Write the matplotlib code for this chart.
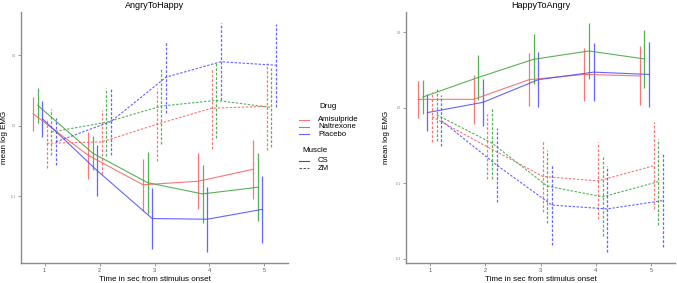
import numpy as np
import matplotlib
matplotlib.use('Agg')
from matplotlib import pyplot as plt

plt.rcParams['font.family'] = ['Liberation Sans', 'DejaVu Sans']

times = [1, 2, 3, 4, 5]
drugs = ['Amisulpride', 'Naltrexone', 'Placebo']
muscles = ['CS', 'ZM']
panels = ['AngryToHappy', 'HappyToAngry']

# mean log EMG and half-width of error bar, per panel / muscle / drug
a2h_cs_mean = {'Amisulpride': [0.017, -0.042, -0.084, -0.079, -0.062],
               'Naltrexone': [0.029, -0.039, -0.081, -0.097, -0.0875],
               'Placebo': [0.010, -0.064, -0.132, -0.133, -0.119]}
a2h_cs_err = {'Amisulpride': [0.024, 0.0335, 0.037, 0.0395, 0.042],
              'Naltrexone': [0.0245, 0.024, 0.044, 0.041, 0.048],
              'Placebo': [0.0255, 0.036, 0.043, 0.046, 0.0475]}
a2h_zm_mean = {'Amisulpride': [-0.025, -0.023, 0.002, 0.025, 0.0275],
               'Naltrexone': [-0.009, 0.005, 0.028, 0.036, 0.026],
               'Placebo': [-0.023, 0.006, 0.069, 0.091, 0.086]}
a2h_zm_err = {'Amisulpride': [0.0345, 0.0455, 0.0515, 0.0575, 0.0615],
              'Naltrexone': [0.0325, 0.048, 0.0535, 0.054, 0.056],
              'Placebo': [0.0335, 0.048, 0.0505, 0.0545, 0.059]}

h2a_cs_mean = {'Amisulpride': [0.011, 0.011, 0.037, 0.044, 0.042],
               'Naltrexone': [0.014, 0.040, 0.064, 0.075, 0.0645],
               'Placebo': [-0.0065, 0.007, 0.037, 0.047, 0.044]}
h2a_cs_err = {'Amisulpride': [0.0245, 0.0325, 0.035, 0.0356, 0.039],
              'Naltrexone': [0.0225, 0.0295, 0.033, 0.0365, 0.038],
              'Placebo': [0.024, 0.0315, 0.036, 0.0386, 0.0435]}
h2a_zm_mean = {'Amisulpride': [-0.012, -0.052, -0.091, -0.097, -0.077],
               'Naltrexone': [-0.0095, -0.047, -0.104, -0.118, -0.098],
               'Placebo': [-0.017, -0.076, -0.129, -0.134, -0.123]}
h2a_zm_err = {'Amisulpride': [0.033, 0.043, 0.047, 0.051, 0.0575],
              'Naltrexone': [0.0345, 0.047, 0.0485, 0.0525, 0.057],
              'Placebo': [0.0335, 0.0485, 0.0525, 0.0565, 0.062]}

data = {
    'AngryToHappy': {'CS': (a2h_cs_mean, a2h_cs_err), 'ZM': (a2h_zm_mean, a2h_zm_err)},
    'HappyToAngry': {'CS': (h2a_cs_mean, h2a_cs_err), 'ZM': (h2a_zm_mean, h2a_zm_err)},
}

colors = {'Amisulpride': '#f8605f', 'Naltrexone': '#3aa53a', 'Placebo': '#4a4aff'}
styles = {'CS': '-', 'ZM': (0, (2.2, 1.4))}
axis_grey = '#8a8a8a'
dodge = 0.5

W, H = 677, 283
fig = plt.figure(figsize=(W / 100, H / 100), dpi=100)


def px_axes(x0, x1, y0, y1):
    return fig.add_axes([x0 / W, (H - y1) / H, (x1 - x0) / W, (y1 - y0) / H])


axes = [px_axes(21, 288, 12, 263), px_axes(406, 675, 12, 263)]
ylabel_x = [-0.05, -0.06]

for ax, panel, lx in zip(axes, panels, ylabel_x):
    k = 0
    n = len(drugs) * len(muscles)
    for muscle in muscles:
        means, errs = data[panel][muscle]
        for drug in drugs:
            off = -dodge / 2 + dodge / n * (k + 0.5)
            x = np.array(times) + off
            eb = ax.errorbar(x, means[drug], yerr=errs[drug], color=colors[drug],
                             linestyle=styles[muscle], lw=0.8, elinewidth=0.9,
                             capsize=0, alpha=0.85)
            # error bars follow the muscle's line type, as in ggplot
            for coll in eb[2]:
                coll.set_linestyle(styles[muscle])
            k += 1
    ax.margins(0.05)
    ax.set_title(panel, fontsize=6.5, pad=3)
    ax.set_xlabel('Time in sec from stimulus onset', fontsize=5.8, labelpad=2)
    ax.set_ylabel('mean log EMG', fontsize=5.8)
    ax.yaxis.set_label_coords(lx, 0.5)
    ax.set_xticks(times)
    ax.tick_params(axis='x', labelsize=4, length=2, width=0.6,
                   color=axis_grey, labelcolor='#555555', pad=1.5)
    ax.tick_params(axis='y', labelsize=2.2, length=2, width=0.6,
                   color=axis_grey, labelcolor='#777777', pad=1.5)
    for side in ['top', 'right']:
        ax.spines[side].set_visible(False)
    for side in ['left', 'bottom']:
        ax.spines[side].set_color(axis_grey)
        ax.spines[side].set_linewidth(1.0)
    ax.set_facecolor('white')

axes[0].set_yticks([-0.1, 0.0, 0.1])
axes[0].set_yticklabels(['-0.1', '0.0', '0.1'])
axes[1].set_yticks([-0.2, -0.1, 0.0, 0.1])
axes[1].set_yticklabels(['-0.2', '-0.1', '0.0', '0.1'])

# legend drawn manually to mimic the ggplot layout
lx0, lx1, tx = 299 / W, 309 / W, 318 / W
fig.text(319 / W, 1 - 107 / H, 'Drug', fontsize=5.8, va='center')
for i, drug in enumerate(drugs):
    yy = 1 - (119.5 + 7.3 * i) / H
    fig.add_artist(plt.Line2D([lx0, lx1], [yy, yy], color=colors[drug], lw=0.8, alpha=0.85))
    fig.text(tx, yy, drug, fontsize=5.6, va='center')
fig.text(302 / W, 1 - 150.5 / H, 'Muscle', fontsize=5.8, va='center')
for i, muscle in enumerate(muscles):
    yy = 1 - (161 + 7.3 * i) / H
    fig.add_artist(plt.Line2D([lx0, lx1], [yy, yy], color='#555555',
                              linestyle=styles[muscle], lw=0.8))
    fig.text(tx, yy, muscle, fontsize=5.6, va='center')

fig.savefig('out.png', dpi=100, facecolor='white')
